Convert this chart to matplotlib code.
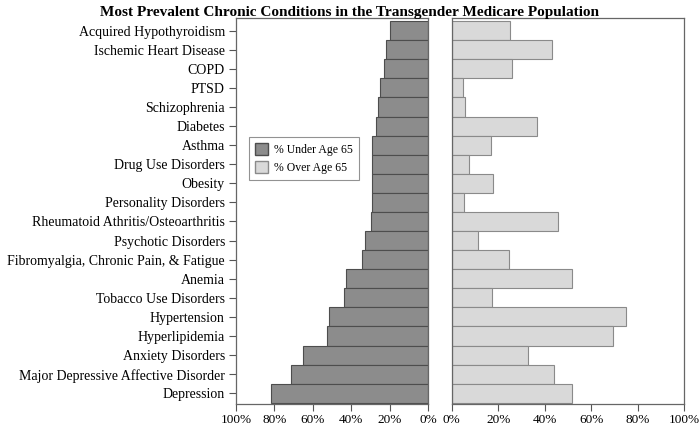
import numpy as np
import matplotlib
matplotlib.use("Agg")
import matplotlib.pyplot as plt
import matplotlib.patches as mpatches

plt.rcParams['font.family'] = ['Liberation Serif', 'DejaVu Serif']

# top to bottom as in the chart
conditions = ["Acquired Hypothyroidism", "Ischemic Heart Disease", "COPD", "PTSD",
              "Schizophrenia", "Diabetes", "Asthma", "Drug Use Disorders", "Obesity",
              "Personality Disorders", "Rheumatoid Athritis/Osteoarthritis",
              "Psychotic Disorders", "Fibromyalgia, Chronic Pain, & Fatigue", "Anemia",
              "Tobacco Use Disorders", "Hypertension", "Hyperlipidemia",
              "Anxiety Disorders", "Major Depressive Affective Disorder", "Depression"]
under_65 = [20, 21.7, 22.7, 24.8, 25.9, 26.9, 29, 29, 29, 29, 29.8,
            32.8, 34.2, 42.7, 43.8, 51.4, 52.8, 65.1, 71.5, 81.8]
over_65 = [25.2, 43, 25.8, 5, 5.8, 36.5, 17, 7.6, 17.9, 5.4, 45.6,
           11.2, 24.6, 51.9, 17.2, 74.8, 69.5, 32.7, 44.1, 51.9]
xticks = [0, 20, 40, 60, 80, 100]

W, H = 700, 428
fig = plt.figure(figsize=(W / 100, H / 100), dpi=100)
ax_l = fig.add_axes([236 / W, 1 - 404 / H, (428 - 236) / W, (404 - 18) / H])
ax_r = fig.add_axes([451.7 / W, 1 - 404 / H, 232.6 / W, (404 - 18) / H])

y = np.arange(len(conditions))[::-1]
ax_l.barh(y, under_65, height=1.0, color="#8c8c8c", edgecolor="#4d4d4d", linewidth=0.8)
ax_r.barh(y, over_65, height=1.0, color="#d9d9d9", edgecolor="#8a8a8a", linewidth=0.8)

for ax in (ax_l, ax_r):
    ax.set_ylim(-0.56, len(conditions) - 0.34)
    ax.set_xticks(xticks)
    ax.set_xticklabels([f"{t}%" for t in xticks], fontsize=9.5)
    ax.tick_params(axis="x", direction="out", length=5, color="#555555", pad=2.5)
    for s in ax.spines.values():
        s.set_color("#666666")
        s.set_linewidth(0.9)

ax_l.set_xlim(100, 0)
ax_r.set_xlim(0, 100)
ax_l.set_yticks(y)
ax_l.set_yticklabels(conditions, fontsize=10)
ax_l.tick_params(axis="y", direction="out", length=5, color="#555555", pad=3)
ax_r.set_yticks([])

handles = [mpatches.Patch(facecolor="#8c8c8c", edgecolor="#4d4d4d", label="% Under Age 65"),
           mpatches.Patch(facecolor="#d9d9d9", edgecolor="#8a8a8a", label="% Over Age 65")]
leg = ax_l.legend(handles=handles, loc="upper left", bbox_to_anchor=(0.068, 0.692),
                  fontsize=8.5, frameon=True, fancybox=False, edgecolor="#777777",
                  handlelength=1.1, handleheight=1.2, handletextpad=0.5,
                  borderpad=0.5, labelspacing=0.45, borderaxespad=0)
leg.get_frame().set_linewidth(0.8)

fig.text(0.5, 0.985, "Most Prevalent Chronic Conditions in the Transgender Medicare Population",
         ha="center", va="top", fontsize=11, fontweight="bold")

fig.savefig("out.png", dpi=100)
